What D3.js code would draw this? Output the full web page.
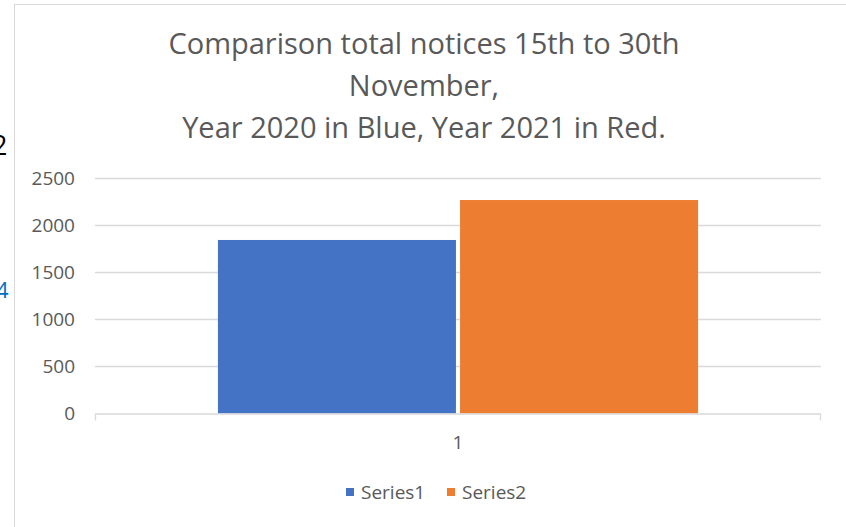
<!DOCTYPE html>
<meta charset="utf-8">
<style>
body { margin: 0; background: #fff; }
text { font-family: "Open Sans", sans-serif; fill: #595959; }
</style>
<body>
<script src="https://cdn.jsdelivr.net/npm/d3@7"></script>
<script>

// data
var categories = ["1"];
var seriesNames = ["Series1", "Series2"];
var seriesValues = [1846, 2271];
var seriesColors = ["#4472c4", "#ed7d31"];
var yTicks = [0, 500, 1000, 1500, 2000, 2500];
var titleLines = ["Comparison total notices 15th to 30th", "November,", "Year 2020 in Blue, Year 2021 in Red."];

var W = 846, H = 527;
var margin = {top: 178.5, right: 25, bottom: 113.5, left: 95},
    width = W - margin.left - margin.right,
    height = H - margin.top - margin.bottom;

var svg = d3.select("body").append("svg")
    .attr("width", W)
    .attr("height", H);

// stray characters from the page behind the chart
svg.append("text").attr("x", -8).attr("y", 155).text("2")
    .style("fill", "#000").style("font-size", "27px");
svg.append("text").attr("x", -4).attr("y", 298).text("4")
    .style("fill", "#0070c0").style("font-size", "22px");

// chart frame
svg.append("rect")
    .attr("x", 14.5).attr("y", 4.5)
    .attr("width", 900).attr("height", 600)
    .attr("fill", "none")
    .attr("stroke", "#d9d9d9");

// title
svg.append("g").selectAll("text")
    .data(titleLines).enter()
    .append("text")
    .attr("x", 424)
    .attr("y", function(d, i) { return 54 + i * 41.75; })
    .attr("text-anchor", "middle")
    .style("font-size", "29px")
    .text(function(d) { return d; });

var g = svg.append("g")
    .attr("transform", "translate(" + margin.left + "," + margin.top + ")");

// scales
var x0 = d3.scaleBand().domain(categories).range([0, width]).paddingInner(0).paddingOuter(0.256);
var x1 = d3.scaleBand().domain(seriesNames).range([0, x0.bandwidth()]).paddingInner(0.017);
var y = d3.scaleLinear().domain([0, 2500]).range([height, 0]);

// gridlines
g.append("g").selectAll("line")
    .data(yTicks.filter(function(d) { return d > 0; })).enter()
    .append("line")
    .attr("x1", 0).attr("x2", width)
    .attr("y1", function(d) { return y(d); })
    .attr("y2", function(d) { return y(d); })
    .attr("stroke", "#d9d9d9")
    .attr("stroke-width", 1.3);

// y labels
g.append("g").selectAll("text")
    .data(yTicks).enter()
    .append("text")
    .attr("x", -20)
    .attr("y", function(d) { return y(d); })
    .attr("dy", "0.35em")
    .attr("text-anchor", "end")
    .style("font-size", "19px")
    .text(function(d) { return d; });

// bars
var grp = g.selectAll(".cat")
    .data(categories).enter()
    .append("g")
    .attr("transform", function(d) { return "translate(" + x0(d) + ",0)"; });

grp.selectAll("rect")
    .data(seriesNames).enter()
    .append("rect")
    .attr("x", function(d) { return x1(d); })
    .attr("width", x1.bandwidth())
    .attr("y", function(d, i) { return y(seriesValues[i]); })
    .attr("height", function(d, i) { return height - y(seriesValues[i]); })
    .attr("fill", function(d, i) { return seriesColors[i]; });

// x axis
var xAxis = g.append("g")
    .attr("transform", "translate(0," + height + ")")
    .call(d3.axisBottom(x0).tickSize(0).tickPadding(29));
xAxis.select(".domain").attr("stroke", "#d9d9d9").attr("stroke-width", 1.3)
    .attr("d", "M0.5,7V0.5H" + (width - 0.5) + "V7");
xAxis.selectAll("text")
    .attr("dy", "0.35em")
    .style("font-size", "19px")
    .style("font-family", "Open Sans")
    .style("fill", "#595959");

// legend
var legend = svg.append("g").attr("transform", "translate(346,492)");
var items = legend.selectAll("g")
    .data(seriesNames).enter()
    .append("g")
    .attr("transform", function(d, i) { return "translate(" + (i * 101) + ",0)"; });
items.append("rect")
    .attr("x", 0).attr("y", -4)
    .attr("width", 8).attr("height", 8)
    .attr("fill", function(d, i) { return seriesColors[i]; });
items.append("text")
    .attr("x", 15).attr("y", 0)
    .attr("dy", "0.35em")
    .style("font-size", "19px")
    .text(function(d) { return d; });

</script>
</body>
